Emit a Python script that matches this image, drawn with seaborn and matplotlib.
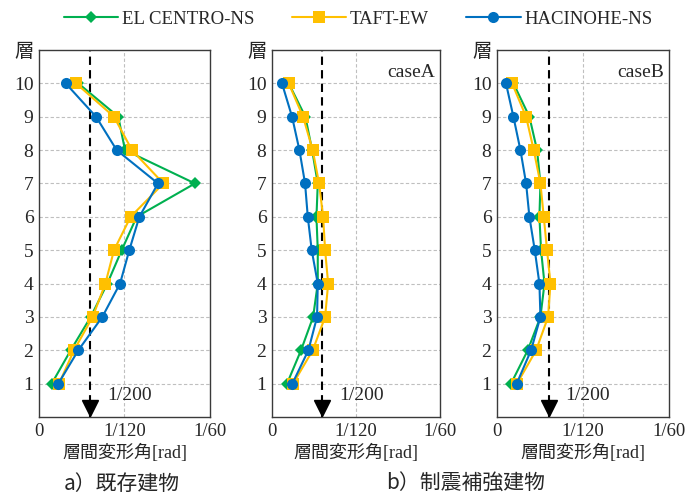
import numpy as np
import pandas as pd
import matplotlib
matplotlib.use("Agg")
import matplotlib.pyplot as plt
import seaborn as sns
from matplotlib.lines import Line2D

# Données : angle de déformation inter-étage [rad] par étage
floors = [10, 9, 8, 7, 6, 5, 4, 3, 2, 1]
waves = ["EL CENTRO-NS", "TAFT-EW", "HACINOHE-NS"]

# a) bâtiment existant
exist_el = [0.00383, 0.00773, 0.00838, 0.01520, 0.00952, 0.00806, 0.00666, 0.00504, 0.00309, 0.00124]
exist_taft = [0.00361, 0.00731, 0.00906, 0.01212, 0.00893, 0.00731, 0.00647, 0.00523, 0.00341, 0.00195]
exist_hac = [0.00260, 0.00556, 0.00757, 0.01160, 0.00978, 0.00880, 0.00790, 0.00617, 0.00383, 0.00188]

# b) caseA
caseA_el = [0.00166, 0.00331, 0.00398, 0.00454, 0.00441, 0.00454, 0.00454, 0.00408, 0.00288, 0.00149]
caseA_taft = [0.00166, 0.00308, 0.00404, 0.00467, 0.00507, 0.00527, 0.00557, 0.00527, 0.00404, 0.00209]
caseA_hac = [0.00099, 0.00199, 0.00272, 0.00328, 0.00355, 0.00394, 0.00454, 0.00447, 0.00361, 0.00202]

# b) caseB
caseB_el = [0.00159, 0.00314, 0.00388, 0.00421, 0.00411, 0.00427, 0.00460, 0.00421, 0.00298, 0.00136]
caseB_taft = [0.00146, 0.00282, 0.00356, 0.00421, 0.00453, 0.00485, 0.00518, 0.00495, 0.00379, 0.00194]
caseB_hac = [0.00087, 0.00159, 0.00227, 0.00282, 0.00314, 0.00366, 0.00411, 0.00421, 0.00330, 0.00191]

panels = {
    "exist": [exist_el, exist_taft, exist_hac],
    "caseA": [caseA_el, caseA_taft, caseA_hac],
    "caseB": [caseB_el, caseB_taft, caseB_hac],
}

rows = []
for panel, series in panels.items():
    for wave, vals in zip(waves, series):
        for f, v in zip(floors, vals):
            rows.append({"panel": panel, "wave": wave, "floor": f, "drift": v})
df = pd.DataFrame(rows)

colors = {"EL CENTRO-NS": "#00B050", "TAFT-EW": "#FFC000", "HACINOHE-NS": "#0070C0"}
markers = {"EL CENTRO-NS": "D", "TAFT-EW": "s", "HACINOHE-NS": "o"}
msizes = {"EL CENTRO-NS": 6.5, "TAFT-EW": 8, "HACINOHE-NS": 8}

sns.set_style("white")
plt.rcParams["font.family"] = ["Liberation Serif", "Noto Sans CJK JP"]
plt.rcParams["axes.unicode_minus"] = False

fig = plt.figure(figsize=(6.89, 4.95), dpi=100)
W, H = 689, 495
boxes = [(39, 210), (272, 440), (497, 669)]
top, bottom = 50, 417

limit = 1 / 200
for (l, r), (panel, _) in zip(boxes, panels.items()):
    ax = fig.add_axes([l / W, 1 - bottom / H, (r - l) / W, (bottom - top) / H])
    sub = df[df["panel"] == panel]
    for wave in waves:
        sns.lineplot(data=sub[sub["wave"] == wave], x="drift", y="floor",
                     orient="y", color=colors[wave], marker=markers[wave],
                     markersize=msizes[wave], markeredgewidth=0,
                     linewidth=1.5, ax=ax, zorder=3)
    ax.set_xlim(0, 1 / 60)
    ax.set_ylim(0, 11)
    ax.set_xticks([0, 1 / 120, 1 / 60])
    ax.set_xticklabels(["0", "1/120", "1/60"], fontsize=13.5)
    ax.set_yticks(list(range(1, 12)))
    ax.set_yticklabels([str(i) for i in range(1, 11)] + ["層"], fontsize=14)
    ax.tick_params(length=0, pad=4)
    for y in range(1, 11):
        ax.axhline(y, color="#bfbfbf", ls=(0, (3, 2)), lw=0.8, zorder=1)
    ax.axvline(1 / 120, color="#bfbfbf", ls=(0, (3, 2)), lw=0.8, zorder=1)
    ax.axvline(limit, color="black", ls=(0, (4, 2.5)), lw=1.5, zorder=2)
    ax.plot([limit], [0.26], marker="v", color="black", markersize=12,
            clip_on=False, zorder=4)
    ax.annotate("1/200", xy=(limit, 0.64), xytext=(12, 0), textcoords="offset points",
                fontsize=14, va="center", ha="left")
    for s in ax.spines.values():
        s.set_color("#3a3a3a")
        s.set_linewidth(1)
    ax.set_xlabel("層間変形角[rad]", fontsize=13, labelpad=3)
    ax.set_ylabel("")
    if panel != "exist":
        ax.text(0.97, 0.94, panel, transform=ax.transAxes, ha="right", va="center",
                fontsize=14)

handles = [Line2D([], [], color=colors[w], marker=markers[w], markersize=msizes[w],
                  markeredgewidth=0, lw=1.5) for w in waves]
fig.legend(handles, waves, loc="center", bbox_to_anchor=(358 / W, 1 - 19 / H),
           ncol=3, frameon=False, fontsize=13.5, handlelength=2.9,
           handletextpad=0.2, columnspacing=2.0)

fig.text(122 / W, 1 - 484 / H, "a）既存建物", ha="center", va="center",
         fontsize=15, family="Noto Sans CJK JP")
fig.text(466 / W, 1 - 484 / H, "b）制震補強建物", ha="center", va="center",
         fontsize=15, family="Noto Sans CJK JP")

fig.savefig("out.png", dpi=100)
